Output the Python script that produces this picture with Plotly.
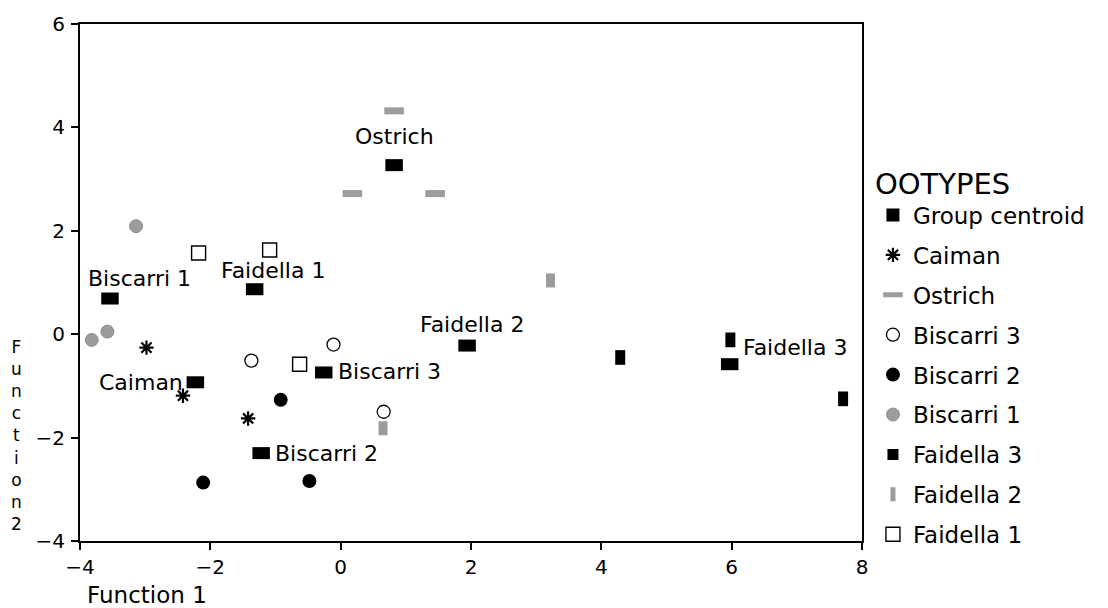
import plotly.graph_objects as go

# ---------------- data ----------------
centroid_names = ["Ostrich", "Biscarri 1", "Faidella 1", "Caiman", "Biscarri 3",
                  "Biscarri 2", "Faidella 2", "Faidella 3"]
centroid_x = [0.82, -3.54, -1.32, -2.23, -0.26, -1.22, 1.94, 5.97]
centroid_y = [3.27, 0.69, 0.87, -0.93, -0.74, -2.30, -0.22, -0.58]

caiman_x = [-2.98, -2.42, -1.42]
caiman_y = [-0.26, -1.19, -1.63]

ostrich_x = [0.82, 0.18, 1.45]
ostrich_y = [4.32, 2.72, 2.72]

biscarri3_x = [-1.37, -0.11, 0.66]
biscarri3_y = [-0.51, -0.20, -1.50]

biscarri2_x = [-0.92, -2.11, -0.48]
biscarri2_y = [-1.27, -2.87, -2.84]

biscarri1_x = [-3.14, -3.82, -3.58]
biscarri1_y = [2.09, -0.11, 0.05]

faidella3_x = [4.29, 5.98, 7.71]
faidella3_y = [-0.45, -0.11, -1.25]

faidella2_x = [3.22, 0.65]
faidella2_y = [1.04, -1.82]

faidella1_x = [-2.18, -1.09, -0.63]
faidella1_y = [1.57, 1.63, -0.58]

x_ticks = [-4, -2, 0, 2, 4, 6, 8]
y_ticks = [-4, -2, 0, 2, 4, 6]

# ---------------- styling ----------------
FONT = "DejaVu Sans"
GRAY = "#9c9c9c"
# label placement for centroid names: (xanchor, xshift, yshift)
label_style = {
    "Ostrich": ("center", 0, 29),
    "Biscarri 1": ("center", 30, 20),
    "Faidella 1": ("center", 18, 19),
    "Caiman": ("right", -10, 0),
    "Biscarri 3": ("left", 12, 1),
    "Biscarri 2": ("left", 12, 0),
    "Faidella 2": ("center", 5, 21),
    "Faidella 3": ("left", 11, 17),
}

fig = go.Figure()

def add(name, xs, ys, marker, rank, showlegend=True):
    fig.add_trace(go.Scatter(
        x=xs, y=ys, mode="markers", name=name, marker=marker,
        showlegend=showlegend, legendrank=rank, legendgroup=name,
        hoverinfo="x+y+name"))

# data traces (drawing order: groups first, centroids on top)
add("Caiman", caiman_x, caiman_y,
    dict(symbol="asterisk", size=12, color="black",
         line=dict(color="black", width=2.2)), 2)
add("Ostrich", ostrich_x, ostrich_y,
    dict(symbol="line-ew", size=14, color=GRAY,
         line=dict(color=GRAY, width=7)), 3)
add("Biscarri 3", biscarri3_x, biscarri3_y,
    dict(symbol="circle-open", size=13, color="black",
         line=dict(color="black", width=1.3)), 4)
add("Biscarri 2", biscarri2_x, biscarri2_y,
    dict(symbol="circle", size=14, color="black",
         line=dict(color="black", width=0)), 5)
add("Biscarri 1", biscarri1_x, biscarri1_y,
    dict(symbol="circle", size=13, color=GRAY,
         line=dict(color="#808080", width=0.8)), 6)
add("Faidella 3", faidella3_x, faidella3_y,
    dict(symbol="line-ns", size=10.5, color="black",
         line=dict(color="black", width=10)), 7, showlegend=False)
add("Faidella 2", faidella2_x, faidella2_y,
    dict(symbol="line-ns", size=10, color=GRAY,
         line=dict(color=GRAY, width=9)), 8)
add("Faidella 1", faidella1_x, faidella1_y,
    dict(symbol="square-open", size=14, color="black",
         line=dict(color="black", width=1.4)), 9)
add("Group centroid", centroid_x, centroid_y,
    dict(symbol="line-ew", size=12.5, color="black",
         line=dict(color="black", width=12)), 1, showlegend=False)

# legend-only proxies for the rectangle markers
fig.add_trace(go.Scatter(x=[None], y=[None], mode="markers", name="Group centroid",
                         marker=dict(symbol="square", size=13, color="black"),
                         legendrank=1, legendgroup="Group centroid", showlegend=True))
fig.add_trace(go.Scatter(x=[None], y=[None], mode="markers", name="Faidella 3",
                         marker=dict(symbol="square", size=11, color="black"),
                         legendrank=7, legendgroup="Faidella 3", showlegend=True))

# centroid labels
for name, cx, cy in zip(centroid_names, centroid_x, centroid_y):
    xa, xs, ys = label_style[name]
    fig.add_annotation(x=cx, y=cy, xref="x", yref="y", text=name, showarrow=False,
                       xanchor=xa, yanchor="middle", xshift=xs, yshift=ys,
                       font=dict(family=FONT, size=22, color="black"))

# axis titles
fig.add_annotation(text="Function 1", xref="paper", yref="paper", x=0.006, y=-0.105,
                   xanchor="left", yanchor="middle", showarrow=False,
                   font=dict(family=FONT, size=23, color="black"))
fig.add_annotation(text="<br>".join(list("Function2")), xref="paper", yref="paper",
                   x=-0.081, y=0.205, xanchor="center", yanchor="middle", showarrow=False,
                   font=dict(family=FONT, size=17, color="black"))

axis_common = dict(showline=True, linecolor="black", linewidth=2, mirror=True,
                   ticks="outside", ticklen=7, tickwidth=2, tickcolor="black",
                   showgrid=False, zeroline=False,
                   tickfont=dict(family=FONT, size=20, color="black"))

fig.update_layout(
    width=1108, height=608,
    margin=dict(l=80, r=246, t=17, b=67),
    paper_bgcolor="white", plot_bgcolor="white",
    font=dict(family=FONT, color="black"),
    xaxis=dict(range=[-4, 8], tickvals=x_ticks, **axis_common),
    yaxis=dict(range=[-4, 6], tickvals=y_ticks, ticklabelstandoff=2, **axis_common),
    legend=dict(x=1.014, xanchor="left", y=0.745, yanchor="top",
                title=dict(text="OOTYPES", font=dict(family=FONT, size=29)),
                font=dict(family=FONT, size=23, color="black"),
                traceorder="grouped", tracegroupgap=7, itemwidth=30,
                bgcolor="rgba(0,0,0,0)"),
)

fig.write_html("out.html")
